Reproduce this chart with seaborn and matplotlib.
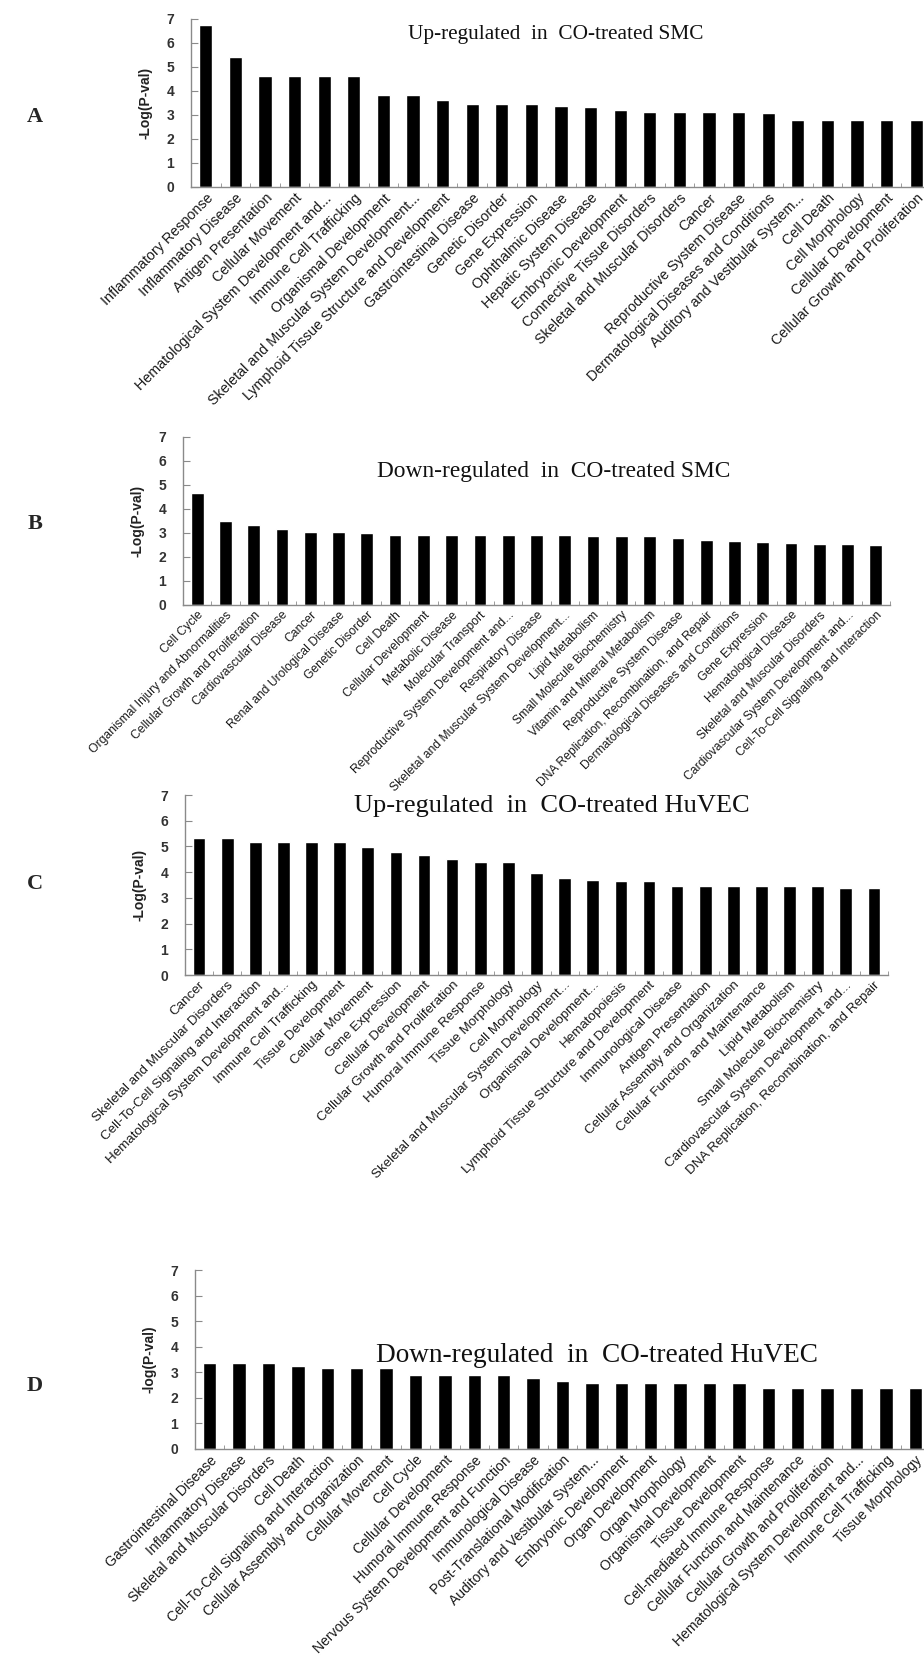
import numpy as np
import pandas as pd
import matplotlib
matplotlib.use("Agg")
import matplotlib.pyplot as plt
import seaborn as sns

# panel A - up-regulated in CO-treated SMC
a_labels = ["Inflammatory Response", "Inflammatory Disease", "Antigen Presentation",
            "Cellular Movement", "Hematological System Development and...",
            "Immune Cell Trafficking", "Organismal Development",
            "Skeletal and Muscular System Development...",
            "Lymphoid Tissue Structure and Development", "Gastrointestinal Disease",
            "Genetic Disorder", "Gene Expression", "Ophthalmic Disease",
            "Hepatic System Disease", "Embryonic Development",
            "Connective Tissue Disorders", "Skeletal and Muscular Disorders", "Cancer",
            "Reproductive System Disease", "Dermatological Diseases and Conditions",
            "Auditory and Vestibular System...", "Cell Death", "Cell Morphology",
            "Cellular Development", "Cellular Growth and Proliferation"]
a_values = [6.76, 5.40, 4.64, 4.64, 4.64, 4.64, 3.85, 3.85, 3.61, 3.47, 3.47, 3.44,
            3.36, 3.33, 3.19, 3.12, 3.12, 3.12, 3.12, 3.07, 2.81, 2.81, 2.81, 2.81, 2.81]

# panel B - down-regulated in CO-treated SMC
b_labels = ["Cell Cycle", "Organismal Injury and Abnormalities",
            "Cellular Growth and Proliferation", "Cardiovascular Disease", "Cancer",
            "Renal and Urological Disease", "Genetic Disorder", "Cell Death",
            "Cellular Development", "Metabolic Disease", "Molecular Transport",
            "Reproductive System Development and...", "Respiratory Disease",
            "Skeletal and Muscular System Development...", "Lipid Metabolism",
            "Small Molecule Biochemistry", "Vitamin and Mineral Metabolism",
            "Reproductive System Disease", "DNA Replication, Recombination, and Repair",
            "Dermatological Diseases and Conditions", "Gene Expression",
            "Hematological Disease", "Skeletal and Muscular Disorders",
            "Cardiovascular System Development and...",
            "Cell-To-Cell Signaling and Interaction"]
b_values = [4.65, 3.49, 3.35, 3.18, 3.04, 3.04, 3.01, 2.90, 2.90, 2.90, 2.90, 2.90,
            2.90, 2.90, 2.88, 2.88, 2.88, 2.79, 2.69, 2.67, 2.61, 2.59, 2.55, 2.53, 2.50]

# panel C - up-regulated in CO-treated HuVEC
c_labels = ["Cancer", "Skeletal and Muscular Disorders",
            "Cell-To-Cell Signaling and Interaction",
            "Hematological System Development and...", "Immune Cell Trafficking",
            "Tissue Development", "Cellular Movement", "Gene Expression",
            "Cellular Development", "Cellular Growth and Proliferation",
            "Humoral Immune Response", "Tissue Morphology", "Cell Morphology",
            "Skeletal and Muscular System Development...", "Organismal Development...",
            "Hematopoiesis", "Lymphoid Tissue Structure and Development",
            "Immunological Disease", "Antigen Presentation",
            "Cellular Assembly and Organization", "Cellular Function and Maintenance",
            "Lipid Metabolism", "Small Molecule Biochemistry",
            "Cardiovascular System Development and...",
            "DNA Replication, Recombination, and Repair"]
c_values = [5.33, 5.33, 5.18, 5.18, 5.18, 5.18, 4.98, 4.77, 4.68, 4.50, 4.38, 4.38,
            3.98, 3.78, 3.70, 3.65, 3.65, 3.45, 3.45, 3.45, 3.45, 3.45, 3.45, 3.40, 3.37]

# panel D - down-regulated in CO-treated HuVEC
d_labels = ["Gastrointestinal Disease", "Inflammatory Disease",
            "Skeletal and Muscular Disorders", "Cell Death",
            "Cell-To-Cell Signaling and Interaction",
            "Cellular Assembly and Organization", "Cellular Movement", "Cell Cycle",
            "Cellular Development", "Humoral Immune Response",
            "Nervous System Development and Function", "Immunological Disease",
            "Post-Translational Modification", "Auditory and Vestibular System...",
            "Embryonic Development", "Organ Development", "Organ Morphology",
            "Organismal Development", "Tissue Development",
            "Cell-mediated Immune Response", "Cellular Function and Maintenance",
            "Cellular Growth and Proliferation",
            "Hematological System Development and...", "Immune Cell Trafficking",
            "Tissue Morphology"]
d_values = [3.35, 3.35, 3.35, 3.25, 3.17, 3.17, 3.17, 2.90, 2.90, 2.90, 2.90, 2.78,
            2.65, 2.60, 2.60, 2.60, 2.60, 2.60, 2.60, 2.40, 2.40, 2.40, 2.40, 2.40, 2.40]

panels = [
    ("A", a_labels, a_values, "Up-regulated  in  CO-treated SMC", "-Log(P-val)"),
    ("B", b_labels, b_values, "Down-regulated  in  CO-treated SMC", "-Log(P-val)"),
    ("C", c_labels, c_values, "Up-regulated  in  CO-treated HuVEC", "-Log(P-val)"),
    ("D", d_labels, d_values, "Down-regulated  in  CO-treated HuVEC", "-log(P-val)"),
]

sns.set_style("ticks")
plt.rcParams['font.family'] = ['Liberation Sans', 'DejaVu Sans']

W, H = 924, 1671
fig = plt.figure(figsize=(W / 100, H / 100), dpi=100)

# pixel boxes: left, top(=7), right, bottom(=0)
boxes = [(191, 19, 931, 187), (183, 437, 890, 605),
         (185, 795, 888, 975), (195, 1270, 930, 1449)]
# title centre x, y (px) and size
titles = [(556, 35, 15.3), (554, 471, 16.8), (552, 806, 19), (597, 1356, 19.6)]
letter_y = [117, 524, 884, 1386]
label_size = [10.3, 8.7, 9.6, 10.0]

for (tag, labels, values, title, ylab), (l, t, r, b), (tx, ty, ts), ly, fs in zip(
        panels, boxes, titles, letter_y, label_size):
    ax = fig.add_axes([l / W, 1 - b / H, (r - l) / W, (b - t) / H])
    df = pd.DataFrame({"category": labels, "value": values})
    sns.barplot(data=df, x="category", y="value", color="black", width=0.45,
                saturation=1, ax=ax)
    ax.set_xlim(-0.5, len(labels) - 0.5)
    ax.set_ylim(0, 7)
    ax.set_yticks(range(8))
    ax.set_xlabel("")
    ax.set_ylabel(ylab, fontsize=10, fontweight="bold", color="#222222", labelpad=10)
    sns.despine(ax=ax)
    for s in ["left", "bottom"]:
        ax.spines[s].set_color("#8a8a8a")
        ax.spines[s].set_linewidth(1.0)
    ax.set_xticks(np.arange(len(labels)) + 0.5, minor=True)
    ax.tick_params(axis="x", which="major", length=0, pad=3)
    ax.tick_params(axis="x", which="minor", direction="in", length=3,
                   color="#8a8a8a")
    ax.tick_params(axis="y", direction="in", length=5, color="#8a8a8a",
                   labelsize=10, labelcolor="#333333", pad=12)
    for lab in ax.get_yticklabels():
        lab.set_fontweight("bold")
    ax.set_xticks(range(len(labels)))
    ax.set_xticklabels(labels, rotation=45, ha="right", rotation_mode="anchor",
                       fontsize=fs, color="#1a1a1a")
    ax.patch.set_alpha(0)
    fig.text(tx / W, 1 - ty / H, title, ha="center", va="center",
             family="Liberation Serif", fontsize=ts, color="#111111")
    fig.text(35 / W, 1 - ly / H, tag, ha="center", va="center",
             family="Liberation Serif", fontsize=16, fontweight="bold")

fig.savefig("out.png", dpi=100)
